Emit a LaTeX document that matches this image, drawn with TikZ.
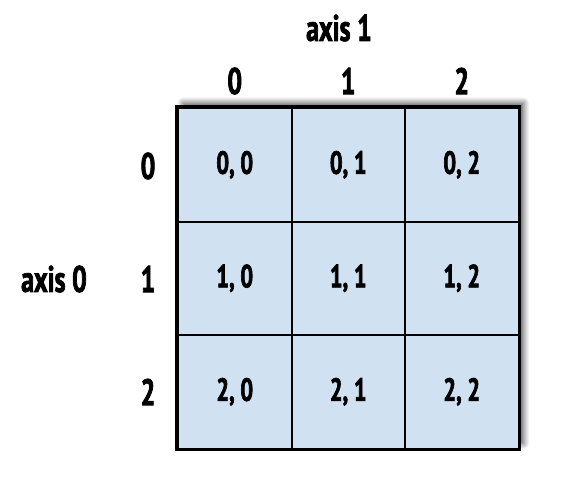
\documentclass[tikz,border=0pt]{standalone}
\usepackage{fontspec}
\setmainfont{PT Sans}[FakeStretch=0.7,BoldFeatures={FakeBold=2}]
\usetikzlibrary{shadows.blur}
\definecolor{cellblue}{RGB}{208,225,242}

\tikzset{
  cell/.style={draw,line width=2pt,fill=cellblue,minimum size=113.5pt,inner sep=0pt,
    font=\bfseries\fontsize{32}{32}\selectfont},
  axlabel/.style={inner sep=0pt,font=\bfseries\fontsize{37}{37}\selectfont}
}

\begin{document}
\begin{tikzpicture}[x=1pt,y=1pt,yscale=-1,xscale=1]
\useasboundingbox (0,0) rectangle (585,487);

%Shape: Rectangle (shadow under the grid)
\path[fill=cellblue,blur shadow={shadow xshift=5pt,shadow yshift=5pt,shadow blur steps=10,shadow blur radius=6pt,shadow opacity=70}] (178,108) rectangle (518.5,448.5);

%Cells
\foreach \r in {0,1,2}
  \foreach \c in {0,1,2}
    \node[cell] (c\r\c) at ({234.75+113.5*\c},{164.75+113.5*\r}) {\r, \c};

%Shape: Rectangle (outer frame)
\draw[line width=3.2pt] (c00.north west) rectangle (c22.south east);

% Text Node
\node[axlabel] (col0) at (234.75,81) {0};
\node[axlabel] (col1) at (348.25,81) {1};
\node[axlabel] (col2) at (461.75,81) {2};
% Text Node
\node[axlabel] (axis1) at (339,28) {axis 1};
% Text Node
\node[axlabel] (row0) at (148,166) {0};
\node[axlabel] (row1) at (148,279) {1};
\node[axlabel] (row2) at (148,392) {2};
% Text Node
\node[axlabel] (axis0) at (54,279) {axis 0};

\end{tikzpicture}
\end{document}
